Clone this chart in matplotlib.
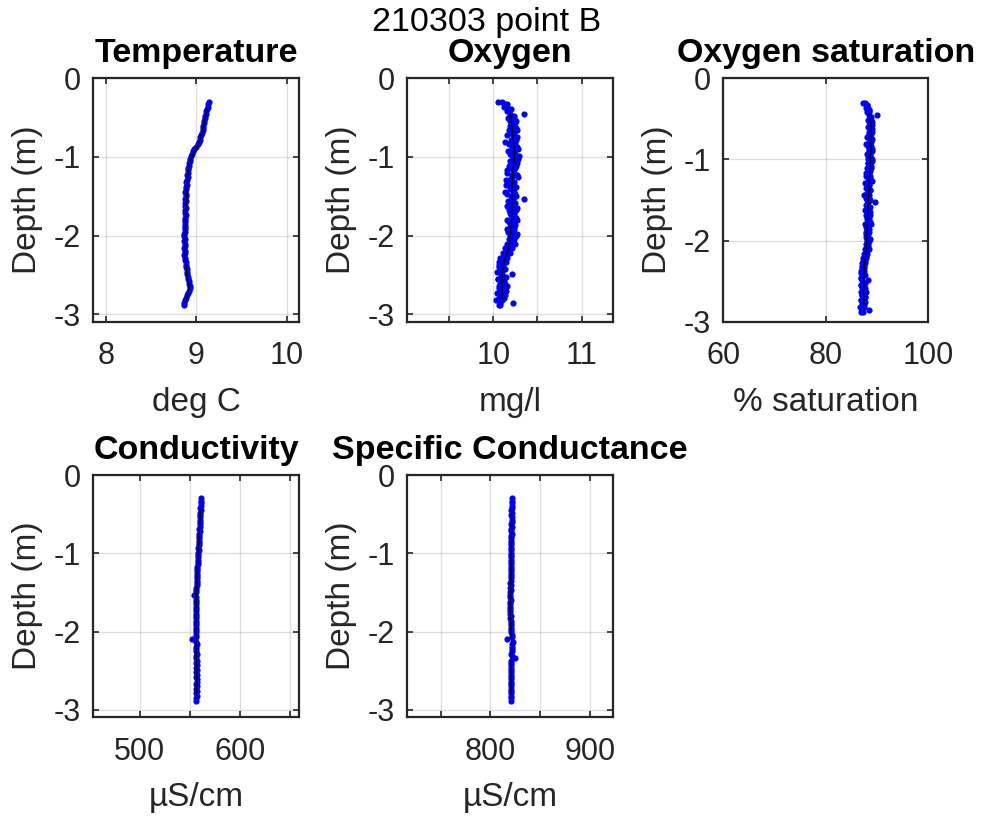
import matplotlib
matplotlib.use("Agg")
import matplotlib.pyplot as plt
import numpy as np

plt.rcParams['font.family'] = ['Liberation Sans', 'DejaVu Sans']
plt.rcParams['axes.unicode_minus'] = False

# ---------------- data ----------------
depth = [
    -0.30, -0.33, -0.36, -0.39, -0.42, -0.45, -0.48, -0.51, -0.54, -0.57,
    -0.60, -0.63, -0.66, -0.69, -0.72, -0.75, -0.78, -0.81, -0.84, -0.87,
    -0.90, -0.93, -0.96, -0.99, -1.02, -1.05, -1.08, -1.11, -1.14, -1.17,
    -1.20, -1.23, -1.26, -1.29, -1.32, -1.35, -1.38, -1.41, -1.44, -1.47,
    -1.50, -1.53, -1.56, -1.59, -1.62, -1.65, -1.68, -1.71, -1.74, -1.77,
    -1.80, -1.83, -1.86, -1.89, -1.92, -1.95, -1.98, -2.01, -2.04, -2.07,
    -2.10, -2.13, -2.16, -2.19, -2.22, -2.25, -2.28, -2.31, -2.34, -2.37,
    -2.40, -2.43, -2.46, -2.49, -2.52, -2.55, -2.58, -2.61, -2.64, -2.67,
    -2.70, -2.73, -2.76, -2.79, -2.82, -2.85, -2.88]

temperature = [
    9.14, 9.13, 9.13, 9.12, 9.11, 9.11, 9.10, 9.10, 9.09, 9.09,
    9.08, 9.07, 9.07, 9.06, 9.05, 9.04, 9.04, 9.03, 9.02, 9.00,
    8.98, 8.96, 8.95, 8.94, 8.93, 8.93, 8.92, 8.92, 8.91, 8.91,
    8.91, 8.90, 8.91, 8.90, 8.89, 8.90, 8.89, 8.89, 8.88, 8.89,
    8.89, 8.88, 8.89, 8.88, 8.88, 8.89, 8.88, 8.88, 8.89, 8.88,
    8.88, 8.88, 8.88, 8.88, 8.88, 8.88, 8.87, 8.87, 8.88, 8.87,
    8.88, 8.88, 8.87, 8.88, 8.88, 8.87, 8.88, 8.88, 8.89, 8.89,
    8.89, 8.90, 8.90, 8.90, 8.91, 8.91, 8.92, 8.92, 8.93, 8.93,
    8.92, 8.91, 8.90, 8.89, 8.88, 8.87, 8.87]

oxygen_a = [
    10.05, 10.13, 10.15, 10.17, 10.18, 10.35, 10.20, 10.23, 10.19, 10.25,
    10.21, 10.26, 10.18, 10.24, 10.22, 10.27, 10.20, 10.13, 10.25, 10.21,
    10.28, 10.23, 10.19, 10.29, 10.24, 10.21, 10.27, 10.18, 10.25, 10.22,
    10.16, 10.27, 10.21, 10.14, 10.24, 10.19, 10.26, 10.22, 10.13, 10.25,
    10.20, 10.35, 10.17, 10.24, 10.21, 10.27, 10.18, 10.23, 10.20, 10.26,
    10.15, 10.22, 10.25, 10.19, 10.23, 10.17, 10.21, 10.26, 10.18, 10.22,
    10.16, 10.19, 10.13, 10.17, 10.11, 10.14, 10.08, 10.12, 10.07, 10.11,
    10.06, 10.13, 10.04, 10.21, 10.09, 10.05, 10.12, 10.08, 10.15, 10.06,
    10.11, 10.04, 10.13, 10.07, 10.10, 10.22, 10.08]

oxygen_b = [
    10.10, 10.16, 10.12, 10.20, 10.15, 10.19, 10.24, 10.17, 10.26, 10.22,
    10.19, 10.23, 10.27, 10.20, 10.16, 10.23, 10.26, 10.21, 10.18, 10.27,
    10.22, 10.17, 10.25, 10.21, 10.28, 10.19, 10.23, 10.26, 10.20, 10.15,
    10.24, 10.21, 10.28, 10.18, 10.22, 10.14, 10.25, 10.19, 10.23, 10.16,
    10.26, 10.22, 10.19, 10.25, 10.15, 10.22, 10.26, 10.19, 10.24, 10.21,
    10.27, 10.18, 10.20, 10.24, 10.16, 10.21, 10.27, 10.19, 10.23, 10.20,
    10.25, 10.18, 10.21, 10.15, 10.19, 10.12, 10.16, 10.10, 10.14, 10.06,
    10.09, 10.12, 10.07, 10.10, 10.14, 10.05, 10.09, 10.13, 10.06, 10.10,
    10.14, 10.05, 10.09, 10.12, 10.03, 10.08, 10.06]

saturation_a = [
    87.3, 88.0, 88.2, 88.4, 88.5, 90.1, 88.6, 88.9, 88.5, 89.0,
    88.7, 89.1, 88.4, 88.9, 88.7, 89.1, 88.5, 87.8, 88.8, 88.4,
    89.1, 88.6, 88.2, 89.1, 88.6, 88.3, 88.8, 88.0, 88.6, 88.4,
    87.8, 88.7, 88.2, 87.6, 88.5, 88.1, 88.6, 88.3, 87.5, 88.5,
    88.1, 89.6, 87.9, 88.5, 88.2, 88.7, 87.9, 88.3, 88.1, 88.6,
    87.6, 88.2, 88.5, 87.9, 88.3, 87.8, 88.1, 88.5, 87.9, 88.2,
    87.7, 88.0, 87.5, 87.8, 87.3, 87.6, 87.1, 87.5, 87.1, 87.5,
    87.0, 87.6, 86.9, 88.3, 87.3, 87.0, 87.6, 87.3, 87.9, 87.1,
    87.6, 87.0, 87.7, 87.2, 87.4, 88.4, 87.3]

saturation_b = [
    87.6, 88.1, 87.8, 88.5, 88.0, 88.4, 88.8, 88.3, 89.0, 88.6,
    88.3, 88.7, 89.0, 88.4, 88.1, 88.7, 88.9, 88.5, 88.2, 89.0,
    88.5, 88.1, 88.7, 88.3, 89.0, 88.2, 88.5, 88.8, 88.3, 87.9,
    88.6, 88.3, 89.0, 88.1, 88.4, 87.8, 88.6, 88.1, 88.5, 87.9,
    88.7, 88.3, 88.1, 88.6, 87.7, 88.3, 88.6, 88.0, 88.5, 88.2,
    88.8, 87.9, 88.1, 88.4, 87.8, 88.2, 88.7, 88.0, 88.3, 88.1,
    88.5, 87.9, 88.1, 87.6, 87.9, 87.3, 87.6, 87.1, 87.4, 86.9,
    87.2, 87.4, 87.0, 87.2, 87.6, 86.9, 87.2, 87.5, 87.0, 87.2,
    87.6, 86.9, 87.2, 87.4, 86.8, 87.2, 87.0]

conductivity = [
    561.2, 561.0, 560.9, 560.8, 560.6, 560.7, 560.4, 560.5, 560.2, 560.3,
    560.0, 559.9, 559.8, 559.6, 559.7, 559.4, 559.3, 559.1, 559.0, 558.9,
    558.8, 558.6, 558.7, 558.4, 558.3, 558.2, 558.0, 557.9, 557.8, 557.6,
    557.5, 557.4, 557.3, 557.1, 557.0, 556.9, 556.8, 556.7, 556.6, 556.5,
    556.5, 554.2, 556.3, 556.4, 556.2, 556.1, 556.3, 556.0, 556.1, 556.0,
    556.1, 555.9, 556.0, 556.1, 555.8, 556.0, 556.2, 555.9, 556.1, 556.0,
    552.0, 556.3, 556.8, 556.2, 556.5, 556.4, 556.7, 556.5, 556.6, 556.7,
    556.5, 556.8, 556.6, 556.7, 556.5, 556.8, 556.6, 556.7, 556.9, 556.6,
    556.7, 556.5, 556.8, 556.6, 556.7, 556.5, 556.6]

specific_conductance = [
    821.8, 821.5, 821.9, 821.4, 821.7, 821.3, 821.6, 821.2, 821.8, 821.4,
    821.5, 821.1, 821.6, 821.3, 821.0, 821.4, 821.2, 820.6, 821.3, 821.0,
    821.2, 820.9, 821.3, 820.8, 821.1, 820.7, 821.0, 820.9, 821.2, 820.6,
    820.8, 820.5, 820.9, 820.6, 820.4, 820.8, 820.3, 820.6, 820.2, 820.5,
    819.9, 820.3, 820.1, 820.4, 819.8, 820.2, 820.0, 820.3, 819.9, 820.1,
    820.4, 820.2, 820.6, 820.5, 820.9, 820.7, 821.1, 821.3, 822.0, 821.6,
    816.5, 822.6, 821.8, 822.0, 821.5, 821.7, 821.3, 821.5, 825.0, 821.2,
    821.0, 821.3, 820.8, 821.1, 820.9, 821.2, 820.7, 821.0, 820.8, 821.1,
    820.9, 820.7, 821.0, 820.8, 821.1, 820.6, 820.9]

# smoothed profiles (black lines)
temp_line_depth = [-0.40, -0.55, -0.70, -0.85, -0.95, -1.05, -1.20, -1.40, -1.70,
                   -2.00, -2.30, -2.50, -2.62, -2.68, -2.76, -2.85]
temp_line = [9.12, 9.09, 9.06, 9.02, 8.97, 8.93, 8.91, 8.90, 8.885,
             8.88, 8.88, 8.895, 8.915, 8.92, 8.905, 8.88]

oxy_line_depth = [-0.45, -0.60, -0.80, -1.00, -1.20, -1.40, -1.70, -1.90, -2.05,
                  -2.20, -2.30, -2.45, -2.60, -2.80]
oxy_line = [10.19, 10.21, 10.23, 10.24, 10.22, 10.21, 10.21, 10.20, 10.19,
            10.16, 10.13, 10.10, 10.10, 10.10]

sat_line_depth = [-0.44, -0.60, -0.80, -1.00, -1.30, -1.70, -2.05, -2.20, -2.35,
                  -2.55, -2.78]
sat_line = [88.5, 88.9, 88.9, 88.7, 88.5, 88.2, 88.0, 87.8, 87.5, 87.4, 87.5]

cond_line_depth = [-0.45, -0.80, -1.20, -1.50, -1.80, -2.05, -2.30, -2.55, -2.82]
cond_line = [560.7, 559.0, 557.4, 556.6, 556.1, 556.0, 556.4, 556.7, 556.7]

spec_line_depth = [-0.45, -0.80, -1.20, -1.50, -1.75, -2.00, -2.15, -2.35, -2.60, -2.80]
spec_line = [821.5, 821.3, 820.8, 820.4, 820.1, 820.7, 821.5, 821.3, 820.9, 820.8]

titles = ["Temperature", "Oxygen", "Oxygen saturation", "Conductivity",
          "Specific Conductance"]
xlabels = ["deg C", "mg/l", "% saturation", "µS/cm", "µS/cm"]
suptitle = "210303 point B"

y_ticks = [-3, -2, -1, 0]
y_ticklabels = ["-3", "-2", "-1", "0"]

temp_ticks = [8, 9, 10]
temp_ticklabels = ["8", "9", "10"]
oxy_ticks = [9.5, 10, 10.5, 11]
oxy_ticklabels = ["", "10", "", "11"]
sat_ticks = [60, 80, 100]
sat_ticklabels = ["60", "80", "100"]
cond_ticks = [500, 550, 600, 650]
cond_ticklabels = ["500", "", "600", ""]
spec_ticks = [750, 800, 850, 900]
spec_ticklabels = ["", "800", "", "900"]

# ---------------- figure ----------------
W, H = 985, 823
fig = plt.figure(figsize=(W / 100, H / 100), dpi=100)

def ax_at(x0, y0, x1, y1):
    return fig.add_axes([x0 / W, 1 - y1 / H, (x1 - x0) / W, (y1 - y0) / H])

DARK = '#262626'
FS = 22.0      # tick labels
LFS = 24.0     # axis labels
TFS = 24.5     # subplot titles
SFS = 24.5     # figure title

ax_t = ax_at(93.3, 78.3, 299.3, 321.7)
ax_o = ax_at(407.3, 78.3, 613.0, 321.7)
ax_s = ax_at(723.3, 78.3, 928.0, 321.7)
ax_c = ax_at(93.3, 475.0, 299.3, 717.3)
ax_sc = ax_at(407.3, 475.0, 613.0, 717.3)

BLUE = '#0000ff'
MS = 20

def style(ax, title, xlabel, xt, xtl, xlim, ylim):
    ax.set_xlim(*xlim)
    ax.set_ylim(*ylim)
    ax.set_xticks(xt)
    ax.set_xticklabels(xtl)
    ax.set_yticks(y_ticks)
    ax.set_yticklabels(y_ticklabels)
    ax.grid(True, color='#262626', alpha=0.15, linewidth=1.0)
    ax.set_axisbelow(True)
    for sp in ax.spines.values():
        sp.set_color(DARK)
        sp.set_linewidth(1.6)
    ax.tick_params(axis='both', direction='in', length=4, width=1.2,
                   color=DARK, labelcolor=DARK, labelsize=FS,
                   top=True, right=True)
    ax.tick_params(axis='x', pad=14)
    ax.tick_params(axis='y', pad=9)
    ax.set_title(title, fontsize=TFS, fontweight='bold', color='black', pad=11.5)
    ax.set_xlabel(xlabel, fontsize=LFS, color=DARK)
    ax.xaxis.set_label_coords(0.5, -0.268)
    ax.set_ylabel("Depth (m)", fontsize=LFS, color=DARK)
    ax.yaxis.set_label_coords(-0.244, 0.5)

# Temperature
ax_t.scatter(temperature, depth, s=MS, color=BLUE, linewidths=0, zorder=2)
ax_t.plot(temp_line, temp_line_depth, color='black', linewidth=1.0, zorder=3)
style(ax_t, titles[0], xlabels[0], temp_ticks, temp_ticklabels,
      (7.863, 10.139), (-3.094, 0))

# Oxygen
ax_o.scatter(oxygen_a, depth, s=MS, color=BLUE, linewidths=0, zorder=2)
ax_o.scatter(oxygen_b, depth, s=MS, color=BLUE, linewidths=0, zorder=2)
ax_o.plot(oxy_line, oxy_line_depth, color='black', linewidth=1.0, zorder=3)
style(ax_o, titles[1], xlabels[1], oxy_ticks, oxy_ticklabels,
      (9.026, 11.356), (-3.094, 0))

# Oxygen saturation
ax_s.scatter(saturation_a, depth, s=MS, color=BLUE, linewidths=0, zorder=2)
ax_s.scatter(saturation_b, depth, s=MS, color=BLUE, linewidths=0, zorder=2)
ax_s.plot(sat_line, sat_line_depth, color='black', linewidth=1.0, zorder=3)
style(ax_s, titles[2], xlabels[2], sat_ticks, sat_ticklabels,
      (60, 100), (-3.0, 0))

# Conductivity
ax_c.scatter(conductivity, depth, s=MS, color=BLUE, linewidths=0, zorder=2)
ax_c.plot(cond_line, cond_line_depth, color='black', linewidth=1.0, zorder=3)
style(ax_c, titles[3], xlabels[3], cond_ticks, cond_ticklabels,
      (453.5, 659.4), (-3.094, 0))

# Specific conductance
ax_sc.scatter(specific_conductance, depth, s=MS, color=BLUE, linewidths=0, zorder=2)
ax_sc.plot(spec_line, spec_line_depth, color='black', linewidth=1.0, zorder=3)
style(ax_sc, titles[4], xlabels[4], spec_ticks, spec_ticklabels,
      (716.5, 923.4), (-3.094, 0))

fig.text(487 / W, 1 - 31 / H, suptitle, ha='center', va='baseline',
         fontsize=SFS, color='black')

fig.savefig("out.png", dpi=100, facecolor='white')
